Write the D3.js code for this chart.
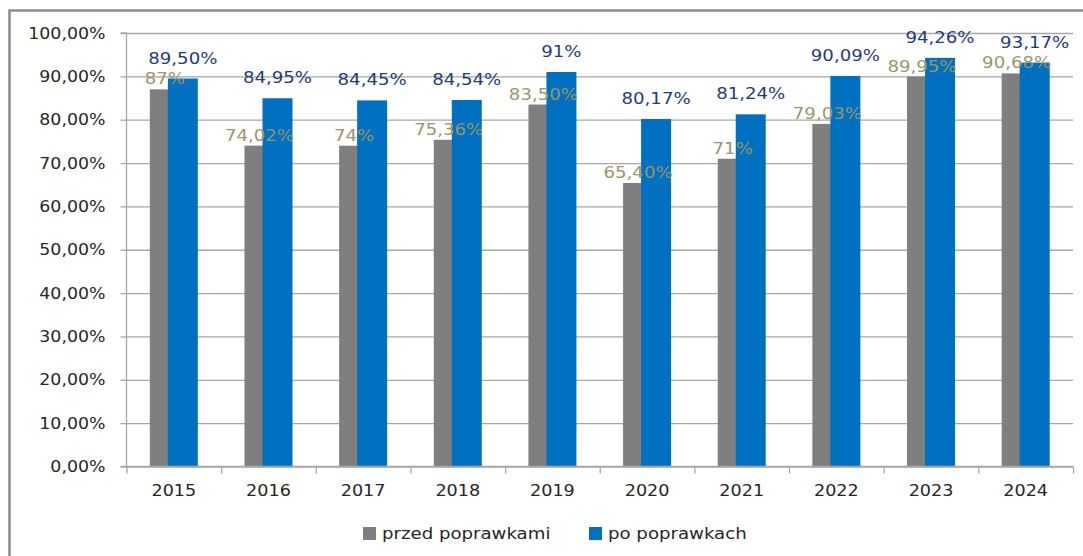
<!DOCTYPE html>
<html>
<head>
<meta charset="utf-8">
<script src="https://cdn.jsdelivr.net/npm/d3@7"></script>
<style>
  html, body { margin: 0; padding: 0; background: #fff; }
  svg { display: block; }
</style>
</head>
<body>
<svg id="chart" width="1083" height="556"></svg>
<script>
const years = ["2015","2016","2017","2018","2019","2020","2021","2022","2023","2024"];
const przed = [87, 74.02, 74, 75.36, 83.5, 65.4, 71, 79.03, 89.95, 90.68];
const po = [89.5, 84.95, 84.45, 84.54, 91, 80.17, 81.24, 90.09, 94.26, 93.17];
const yTicks = [0, 10, 20, 30, 40, 50, 60, 70, 80, 90, 100];
const seriesNames = ["przed poprawkami", "po poprawkach"];

const FONT = "'DejaVu Sans', Verdana, sans-serif";
const SX = 1.1; // horizontal stretch of the text in the reference
const colGray = "#7F7F7F", colBlue = "#0070C0";
const colGrayLbl = "#9C9565", colBlueLbl = "#1F3C7A";

const svg = d3.select("#chart");
const plot = { left: 126.5, right: 1073, top: 33, bottom: 466.5 };

const x = d3.scaleBand().domain(years).range([plot.left, plot.right]).padding(0);
const y = d3.scaleLinear().domain([0, 100]).range([plot.bottom, plot.top]);

const fmtAxis = v => v.toFixed(2).replace(".", ",") + "%";
const fmtLbl = v => (Number.isInteger(v) ? String(v) : v.toFixed(2).replace(".", ",")) + "%";

// outer frame (left and top only visible)
svg.append("path")
  .attr("d", `M9.5,556 V10.5 H1083`)
  .attr("fill", "none").attr("stroke", "#8C8C8C").attr("stroke-width", 2.5);

// gridlines
svg.append("g")
  .attr("transform", `translate(${plot.left},0)`)
  .call(d3.axisLeft(y).tickValues(yTicks).tickSize(-(plot.right - plot.left)).tickFormat(""))
  .call(g => g.select(".domain").remove())
  .call(g => g.selectAll("line").attr("stroke", "#A6A6A6").attr("stroke-width", 1.3));

// y axis
const yAxis = svg.append("g")
  .attr("transform", `translate(${plot.left},0)`)
  .call(d3.axisLeft(y).tickValues(yTicks).tickSize(6).tickPadding(21).tickFormat(fmtAxis));
yAxis.select(".domain").attr("stroke", "#A6A6A6").attr("stroke-width", 1.3).attr("d", `M-6,${plot.top}H0V${plot.bottom}H-6`);
yAxis.selectAll(".tick line").attr("stroke", "#A6A6A6").attr("stroke-width", 1.3);
yAxis.selectAll("text")
  .attr("font-family", FONT).attr("font-size", 15.8).attr("fill", "#262626")
  .attr("x", -21 / SX).attr("transform", `scale(${SX},1)`);

// bars
const gw = 30, grayOff = -24, blueOff = -6;
const cx = d => x(d) + x.bandwidth() / 2;

svg.append("g").selectAll("rect").data(years).join("rect")
  .attr("x", (d) => cx(d) + grayOff)
  .attr("y", (d, i) => y(przed[i]))
  .attr("width", gw)
  .attr("height", (d, i) => y(0) - y(przed[i]))
  .attr("fill", colGray);

svg.append("g").selectAll("rect").data(years).join("rect")
  .attr("x", (d) => cx(d) + blueOff)
  .attr("y", (d, i) => y(po[i]))
  .attr("width", gw)
  .attr("height", (d, i) => y(0) - y(po[i]))
  .attr("fill", colBlue);

// x axis line with boundary ticks
const xb = d3.scaleLinear().domain([0, years.length]).range([plot.left, plot.right]);
const xTickAxis = svg.append("g")
  .attr("transform", `translate(0,${plot.bottom})`)
  .call(d3.axisBottom(xb).tickValues(d3.range(0, years.length + 1)).tickSize(7).tickFormat(""));
xTickAxis.select(".domain").attr("stroke", "#A6A6A6").attr("stroke-width", 1.3).attr("d", `M${plot.left},0H${plot.right}`);
xTickAxis.selectAll(".tick line").attr("stroke", "#A6A6A6").attr("stroke-width", 1.3);

// x labels
const xAxis = svg.append("g")
  .attr("transform", `translate(0,${plot.bottom})`)
  .call(d3.axisBottom(x).tickSize(0).tickPadding(18));
xAxis.select(".domain").remove();
xAxis.selectAll("text")
  .attr("font-family", FONT).attr("font-size", 16).attr("fill", "#262626")
  .attr("transform", `scale(${SX},1)`);

// value labels
function label(g, xPos, yPos, txt, color) {
  g.append("text")
    .attr("transform", `translate(${xPos},${yPos}) scale(${SX},1)`)
    .attr("text-anchor", "middle")
    .attr("font-family", FONT).attr("font-size", 16.5)
    .attr("fill", color)
    .text(txt);
}
const lblG = svg.append("g");
years.forEach((d, i) => {
  label(lblG, cx(d) + grayOff + gw / 2, y(przed[i]) - 5, fmtLbl(przed[i]), colGrayLbl);
  label(lblG, cx(d) + blueOff + gw / 2, y(po[i]) - 15, fmtLbl(po[i]), colBlueLbl);
});

// legend
const legend = svg.append("g");
const legendItems = [
  { name: seriesNames[0], color: colGray, x: 363 },
  { name: seriesNames[1], color: colBlue, x: 589 }
];
legendItems.forEach(it => {
  legend.append("rect").attr("x", it.x).attr("y", 527).attr("width", 13).attr("height", 13).attr("fill", it.color);
  legend.append("text")
    .attr("transform", `translate(${it.x + 19},539) scale(${SX},1)`)
    .attr("font-family", FONT).attr("font-size", 16.5).attr("fill", "#262626")
    .text(it.name);
});
</script>
</body>
</html>
